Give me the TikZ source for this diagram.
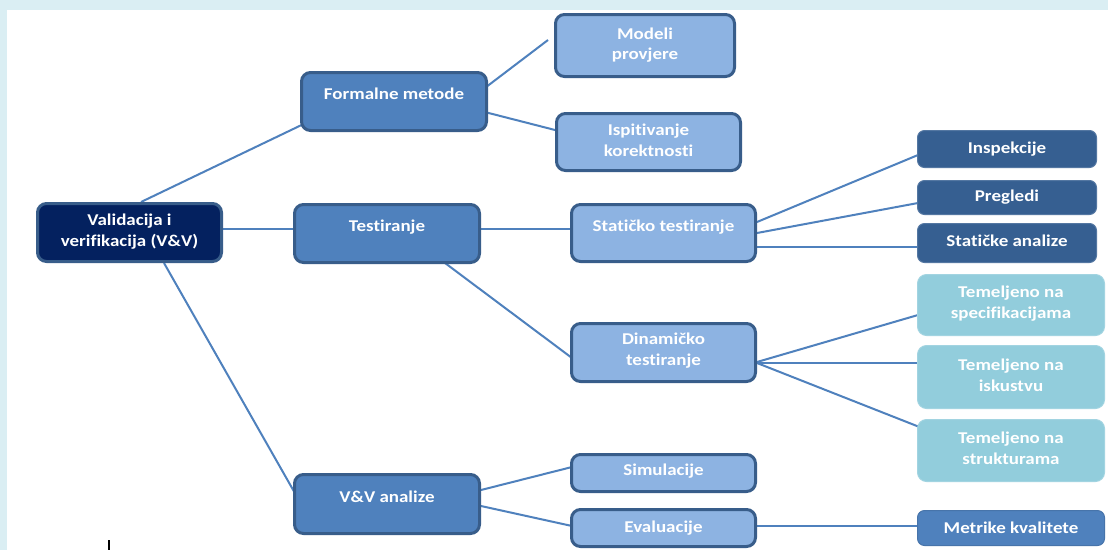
\documentclass[tikz,border=0pt]{standalone}
\usepackage{fontspec}
\setmainfont{Carlito}[FakeStretch=1.15,Ligatures={NoCommon,NoRare}]
\usetikzlibrary{backgrounds}
\definecolor{strip}{HTML}{DAEEF3}
\definecolor{navy}{HTML}{04215F}
\definecolor{edge}{HTML}{385D8A}
\definecolor{midblue}{HTML}{4F81BD}
\definecolor{lightblue}{HTML}{8DB3E2}
\definecolor{darkblue}{HTML}{365F91}
\definecolor{teal}{HTML}{92CDDC}
\begin{document}
\begin{tikzpicture}[x=1pt,y=-1pt,
  tx/.style={text=white,font=\fontsize{16.5}{20.5}\selectfont\bfseries,align=center,inner sep=0pt},
  box/.style={rounded corners=9pt,inner sep=0pt},
  rootbox/.style={box,fill=navy,draw=edge,line width=3pt},
  lvlone/.style={box,fill=midblue,draw=edge,line width=3pt},
  lvltwo/.style={box,fill=lightblue,draw=edge,line width=3pt},
  darkbox/.style={box,rounded corners=7pt,fill=darkblue,draw=darkblue!85!white,line width=1pt},
  tealbox/.style={box,fill=teal,draw=teal!85!white,line width=1pt},
  metbox/.style={box,rounded corners=7pt,fill=midblue,draw=midblue!90!black,line width=1pt},
  conn/.style={draw=midblue,line width=2pt}]
\begin{scope}[on background layer]
  \fill[white] (0,0) rectangle (1108,550);
  \fill[strip] (0,0) rectangle (1108,9.5);
  \fill[strip] (0,0) rectangle (7,550);
\end{scope}
\useasboundingbox (0,0) rectangle (1108,550);

% level 0
\node[rootbox,minimum width=184pt,minimum height=58pt,
  label={[tx,yshift=1pt]center:{Validacija i\\verifikacija (V\&V)}}] (root) at (129.5,232.5) {};
% level 1
\node[lvlone,minimum width=185pt,minimum height=58pt,
  label={[tx,yshift=7.5pt]center:Formalne metode}] (fm) at (394,101.5) {};
\node[lvlone,minimum width=185pt,minimum height=58pt,
  label={[tx,yshift=6.5pt]center:Testiranje}] (test) at (387,233.5) {};
\node[lvlone,minimum width=185pt,minimum height=59pt,
  label={[tx,yshift=7.3pt]center:V\&V analize}] (vva) at (387,504) {};
% level 2
\node[lvltwo,minimum width=179pt,minimum height=62pt,
  label={[tx,yshift=0.5pt]center:{Modeli\\provjere}}] (modeli) at (645,45.5) {};
\node[lvltwo,minimum width=184pt,minimum height=57pt,
  label={[tx,yshift=1.5pt]center:{Ispitivanje\\korektnosti}}] (ispit) at (648.5,142) {};
\node[lvltwo,minimum width=184pt,minimum height=57pt,
  label={[tx,yshift=5.5pt]center:Statičko testiranje}] (stat) at (663.5,233) {};
\node[lvltwo,minimum width=184pt,minimum height=58pt,
  label={[tx,yshift=2pt]center:{Dinamičko\\testiranje}}] (dina) at (663.5,352.5) {};
\node[lvltwo,minimum width=184pt,minimum height=37pt,
  label={[tx,yshift=1.5pt]center:Simulacije}] (sim) at (663.5,473) {};
\node[lvltwo,minimum width=184pt,minimum height=37pt,
  label={[tx]center:Evaluacije}] (eval) at (663.5,528) {};
% level 3
\node[darkbox,minimum width=179pt,minimum height=37pt,
  label={[tx]center:Inspekcije}] (insp) at (1007,149) {};
\node[darkbox,minimum width=179pt,minimum height=34pt,
  label={[tx]center:Pregledi}] (preg) at (1007,197.5) {};
\node[darkbox,minimum width=179pt,minimum height=39pt,
  label={[tx,yshift=2.5pt]center:Statičke analize}] (sta) at (1007,243) {};
\node[tealbox,minimum width=187pt,minimum height=61pt,
  label={[tx,yshift=1.5pt]center:{Temeljeno na\\specifikacijama}}] (tem1) at (1011,305) {};
\node[tealbox,minimum width=187pt,minimum height=63pt,
  label={[tx,yshift=1.5pt]center:{Temeljeno na\\iskustvu}}] (tem2) at (1011,377) {};
\node[tealbox,minimum width=187pt,minimum height=62pt,
  label={[tx,yshift=2pt]center:{Temeljeno na\\strukturama}}] (tem3) at (1011,450.5) {};
\node[metbox,minimum width=187pt,minimum height=35pt,
  label={[tx]center:Metrike kvalitete}] (met) at (1011,528) {};

\begin{scope}[on background layer]
  \draw[conn] ([shift={(11.5,-30.5)}]root.center) -- ([shift={(-57,6.5)}]fm.center);
  \draw[conn] ([shift={(92.5,-3.5)}]root.center) -- ([shift={(-75,-4.5)}]test.center);
  \draw[conn] ([shift={(34.5,30.5)}]root.center) -- ([shift={(-87,-2)}]vva.center);
  \draw[conn] ([shift={(79,-4.5)}]fm.center) -- ([shift={(-97,-5.5)}]modeli.center);
  \draw[conn] ([shift={(79,7.5)}]fm.center) -- ([shift={(-91.5,-11.5)}]ispit.center);
  \draw[conn] ([shift={(83,-4.5)}]test.center) -- ([shift={(-88.5,-4)}]stat.center);
  \draw[conn] ([shift={(58,29.5)}]test.center) -- ([shift={(-91.5,5.5)}]dina.center);
  \draw[conn] ([shift={(93.5,-11)}]stat.center) -- ([shift={(-89,6)}]insp.center);
  \draw[conn] ([shift={(93.5,0)}]stat.center) -- ([shift={(-89,5.5)}]preg.center);
  \draw[conn] ([shift={(93.5,14)}]stat.center) -- ([shift={(-89,4)}]sta.center);
  \draw[conn] ([shift={(93.5,9.5)}]dina.center) -- ([shift={(-93,10)}]tem1.center);
  \draw[conn] ([shift={(93.5,10.5)}]dina.center) -- ([shift={(-93,-14)}]tem2.center);
  \draw[conn] ([shift={(93.5,10.5)}]dina.center) -- ([shift={(-89,-22.5)}]tem3.center);
  \draw[conn] ([shift={(94,-14)}]vva.center) -- ([shift={(-91.5,-6)}]sim.center);
  \draw[conn] ([shift={(94,2)}]vva.center) -- ([shift={(-91.5,-2)}]eval.center);
  \draw[conn] ([shift={(93.5,-2)}]eval.center) -- ([shift={(-93,-2)}]met.center);
\end{scope}

% text cursor mark
\draw[black,line width=1.5pt] (109,540) -- (109,550);
\end{tikzpicture}
\end{document}
